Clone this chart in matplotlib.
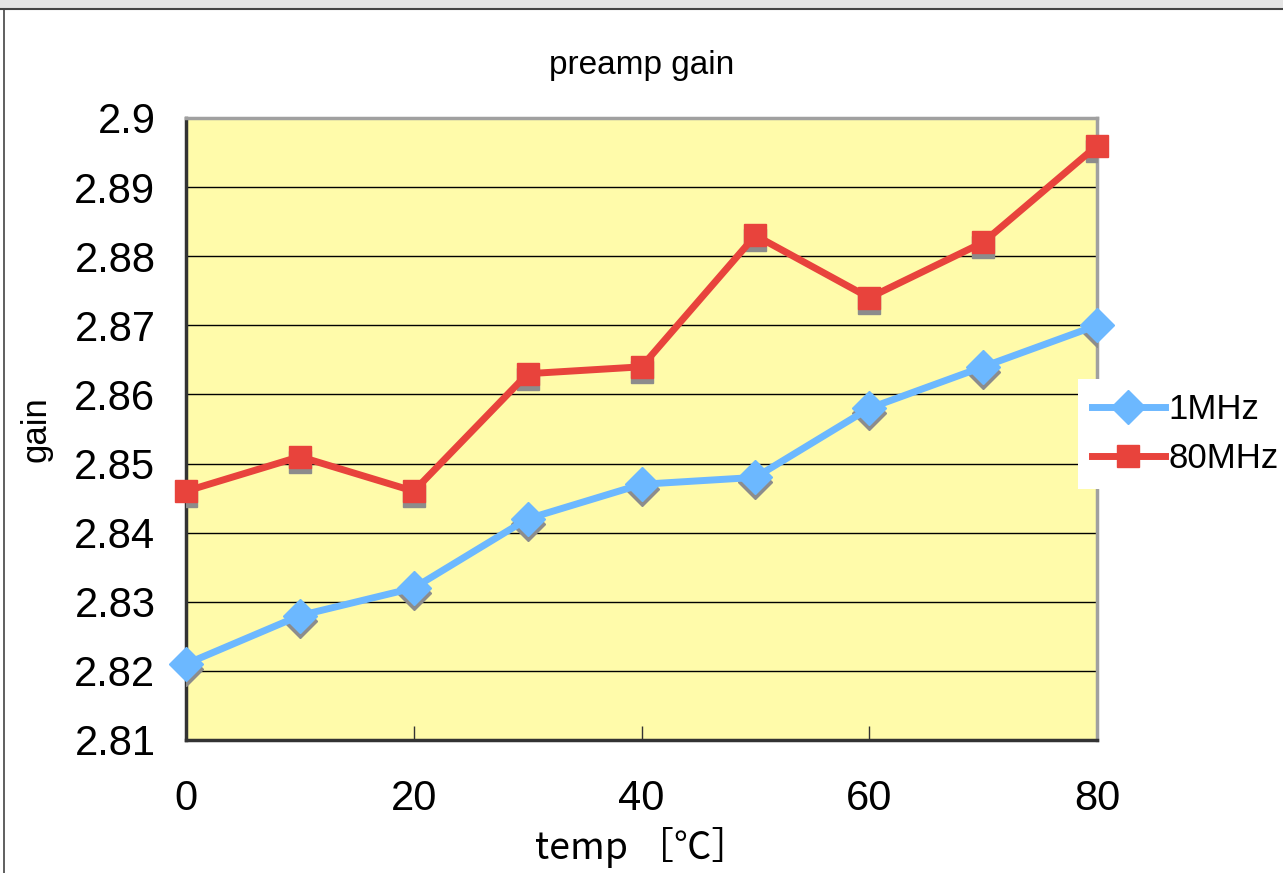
import matplotlib.pyplot as plt
import matplotlib.transforms as mtransforms
from matplotlib.patches import Rectangle
from matplotlib.lines import Line2D

# datos medidos
temps = [0, 10, 20, 30, 40, 50, 60, 70, 80]
gain_1mhz = [2.821, 2.828, 2.832, 2.842, 2.847, 2.848, 2.858, 2.864, 2.870]
gain_80mhz = [2.846, 2.851, 2.846, 2.863, 2.864, 2.883, 2.874, 2.882, 2.896]
yticks = [2.81, 2.82, 2.83, 2.84, 2.85, 2.86, 2.87, 2.88, 2.89, 2.9]
ytick_labels = ['2.81', '2.82', '2.83', '2.84', '2.85', '2.86', '2.87', '2.88', '2.89', '2.9']
xticks = [0, 20, 40, 60, 80]

plt.rcParams['font.family'] = ['Liberation Sans', 'DejaVu Sans']

fig = plt.figure(figsize=(12.83, 8.73), dpi=100)

# marco gris de la ventana
fig.patches.append(Rectangle((0, 1 - 8 / 873), 1, 8 / 873, transform=fig.transFigure,
                             facecolor='#e4e4e4', edgecolor='none', zorder=0))
fig.lines.append(Line2D([0, 1], [1 - 9 / 873] * 2, transform=fig.transFigure,
                        color='#444444', lw=1.5))
fig.lines.append(Line2D([4 / 1283] * 2, [0, 1 - 9 / 873], transform=fig.transFigure,
                        color='#444444', lw=1.2))

ax = fig.add_axes([186 / 1283, 1 - 740 / 873, 911 / 1283, 622 / 873])
ax.set_facecolor('#fffbaa')

# sombra gris debajo de cada marcador
shadow = mtransforms.offset_copy(ax.transData, fig=fig, x=0, y=-5, units='dots')
ax.plot(temps, gain_1mhz, linestyle='none', marker='D', ms=17, color='#8c8c8c',
        transform=shadow, zorder=3)
ax.plot(temps, gain_80mhz, linestyle='none', marker='s', ms=16, color='#8c8c8c',
        transform=shadow, zorder=3)

ax.plot(temps, gain_1mhz, color='#6cb8ff', lw=5, marker='D', ms=17,
        label='1MHz', zorder=4, clip_on=False)
ax.plot(temps, gain_80mhz, color='#e8433c', lw=5, marker='s', ms=16,
        label='80MHz', zorder=4, clip_on=False)

ax.set_xlim(0, 80)
ax.set_ylim(2.81, 2.9)
ax.set_xticks(xticks)
ax.set_yticks(yticks)
ax.set_yticklabels(ytick_labels)
ax.yaxis.grid(True, color='black', lw=1)
ax.set_axisbelow(True)

ax.tick_params(axis='x', direction='in', length=10, width=1, color='#333333',
               labelsize=30, pad=28)
ax.tick_params(axis='y', length=0, labelsize=30, pad=22)

for side in ['top', 'right']:
    ax.spines[side].set_color('#a0a0a0')
    ax.spines[side].set_linewidth(2.5)
for side in ['left', 'bottom']:
    ax.spines[side].set_color('#333333')
    ax.spines[side].set_linewidth(2.5)

ax.set_title('preamp gain', fontsize=24, pad=32)
ax.set_ylabel('gain', fontsize=25, labelpad=16)
ax.set_xlabel('temp ［℃］', fontsize=27, labelpad=6,
              family=['Noto Sans CJK JP', 'DejaVu Sans'])

leg = fig.legend(loc='center left', bbox_to_anchor=(1078 / 1283, 1 - 434 / 873),
                 fontsize=25, frameon=True, fancybox=False, handlelength=2.1,
                 borderpad=0.4, labelspacing=0.45, handletextpad=0.1, borderaxespad=0)
leg.get_frame().set_facecolor('white')
leg.get_frame().set_edgecolor('none')
leg.get_frame().set_alpha(1)

fig.savefig('out.png', dpi=100)
